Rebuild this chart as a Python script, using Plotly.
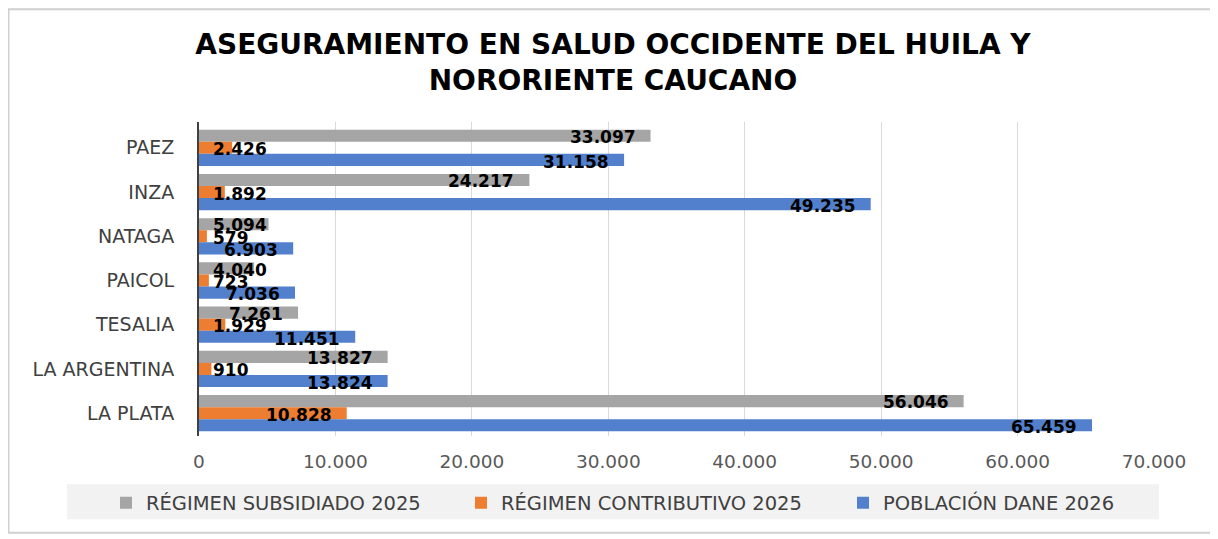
"""Aseguramiento en salud: occidente del Huila y nororiente caucano."""
import plotly.graph_objects as go

# Data (top-to-bottom as in the chart)
MUNICIPIOS = ["PAEZ", "INZA", "NATAGA", "PAICOL", "TESALIA", "LA ARGENTINA", "LA PLATA"]
SUBSIDIADO_2025 = [33097, 24217, 5094, 4040, 7261, 13827, 56046]
CONTRIBUTIVO_2025 = [2426, 1892, 579, 723, 1929, 910, 10828]
POBLACION_DANE_2026 = [31158, 49235, 6903, 7036, 11451, 13824, 65459]

X_TICKS = [0, 10000, 20000, 30000, 40000, 50000, 60000, 70000]

COLOR_SUBS = "#a5a5a5"
COLOR_CONT = "#ed7d31"
COLOR_POB = "#5380cc"

FONT = "DejaVu Sans"

# The page body keeps its default 8px margin, so the figure is drawn 8px in.
W, H = 1210, 531
ML, MR, MT, MB = 191, 64, 113.5, 102.5
PW, PH = W - ML - MR, H - MT - MB

BAR_GAP = 0.18
BAND_PX = PH / len(MUNICIPIOS)
BAR_PX = BAND_PX * (1 - BAR_GAP) / 3
LABEL_FIT = 6500  # below this the label starts at the axis instead of the bar end


def fmt(v):
    return f"{v:,}".replace(",", ".")


def px(x):
    return (x - ML) / PW


def py(y):
    return (H - MB - y) / PH


series = [
    ("RÉGIMEN SUBSIDIADO 2025", SUBSIDIADO_2025, COLOR_SUBS, BAR_PX, "legend", 98),
    ("RÉGIMEN CONTRIBUTIVO 2025", CONTRIBUTIVO_2025, COLOR_CONT, 0, "legend2", 453),
    ("POBLACIÓN DANE 2026", POBLACION_DANE_2026, COLOR_POB, -BAR_PX, "legend3", 835),
]

fig = go.Figure()
annotations = []
legends = {}
for name, values, color, shift, leg, leg_x in series:
    fig.add_trace(go.Bar(
        y=MUNICIPIOS, x=values, name=name, orientation="h", legend=leg,
        showlegend=True,
        marker=dict(color=color, line=dict(width=0)),
        hovertemplate="%{y}: %{x}<extra>" + name + "</extra>",
    ))
    legends[leg] = dict(
        orientation="h", x=leg_x / W, xref="container", xanchor="left",
        y=1 - 495 / H, yref="container", yanchor="middle",
        bgcolor="rgba(0,0,0,0)", font=dict(family=FONT, size=19.5, color="#404040"),
        itemclick=False, itemdoubleclick=False, visible=True,
    )
    for cat, v in zip(MUNICIPIOS, values):
        fits = v >= LABEL_FIT
        annotations.append(dict(
            x=v if fits else 0, y=cat, xref="x", yref="y",
            text=f"<b>{fmt(v)}</b>", showarrow=False,
            xanchor="right" if fits else "left",
            xshift=-13 if fits else 12,
            yshift=shift - 1.5,
            font=dict(family=FONT, size=17, color="#000000"),
        ))

fig.update_layout(
    width=W, height=H, showlegend=True,
    barmode="group", bargap=BAR_GAP, bargroupgap=0,
    paper_bgcolor="white", plot_bgcolor="white",
    margin=dict(l=ML, r=MR, t=MT, b=MB, autoexpand=False),
    font=dict(family=FONT, size=16, color="#404040"),
    title=dict(
        text="<b>ASEGURAMIENTO EN SALUD OCCIDENTE DEL HUILA Y<br>NORORIENTE CAUCANO</b>",
        x=0.5, xref="container", xanchor="center",
        y=1 - 45.5 / H, yref="container", yanchor="middle",
        font=dict(family=FONT, size=28, color="#000000"),
    ),
    xaxis=dict(
        range=[0, 70000], tickvals=X_TICKS, ticktext=[fmt(t) for t in X_TICKS],
        showgrid=True, gridcolor="#d9d9d9", gridwidth=1,
        zeroline=False, showline=False, ticks="",
        tickfont=dict(family=FONT, size=18.5, color="#595959"),
        ticklabelstandoff=12, fixedrange=True,
    ),
    yaxis=dict(
        autorange="reversed", showgrid=False, zeroline=False,
        showline=True, linecolor="#404040", linewidth=2, ticks="",
        tickfont=dict(family=FONT, size=19, color="#404040"),
        ticklabelstandoff=19, fixedrange=True,
    ),
    annotations=annotations,
    shapes=[
        # legend background band
        dict(type="rect", xref="paper", yref="paper", layer="below",
             x0=px(59), x1=px(1151), y0=py(512), y1=py(477),
             fillcolor="#f2f2f2", line=dict(width=0)),
        # chart frame
        dict(type="rect", xref="paper", yref="paper", layer="below",
             x0=px(0.5), x1=px(1216), y0=py(525.5), y1=py(0.5),
             fillcolor="rgba(0,0,0,0)", line=dict(color="#d0d0d0", width=2)),
    ],
    **legends,
)

fig.write_html("out.html")
